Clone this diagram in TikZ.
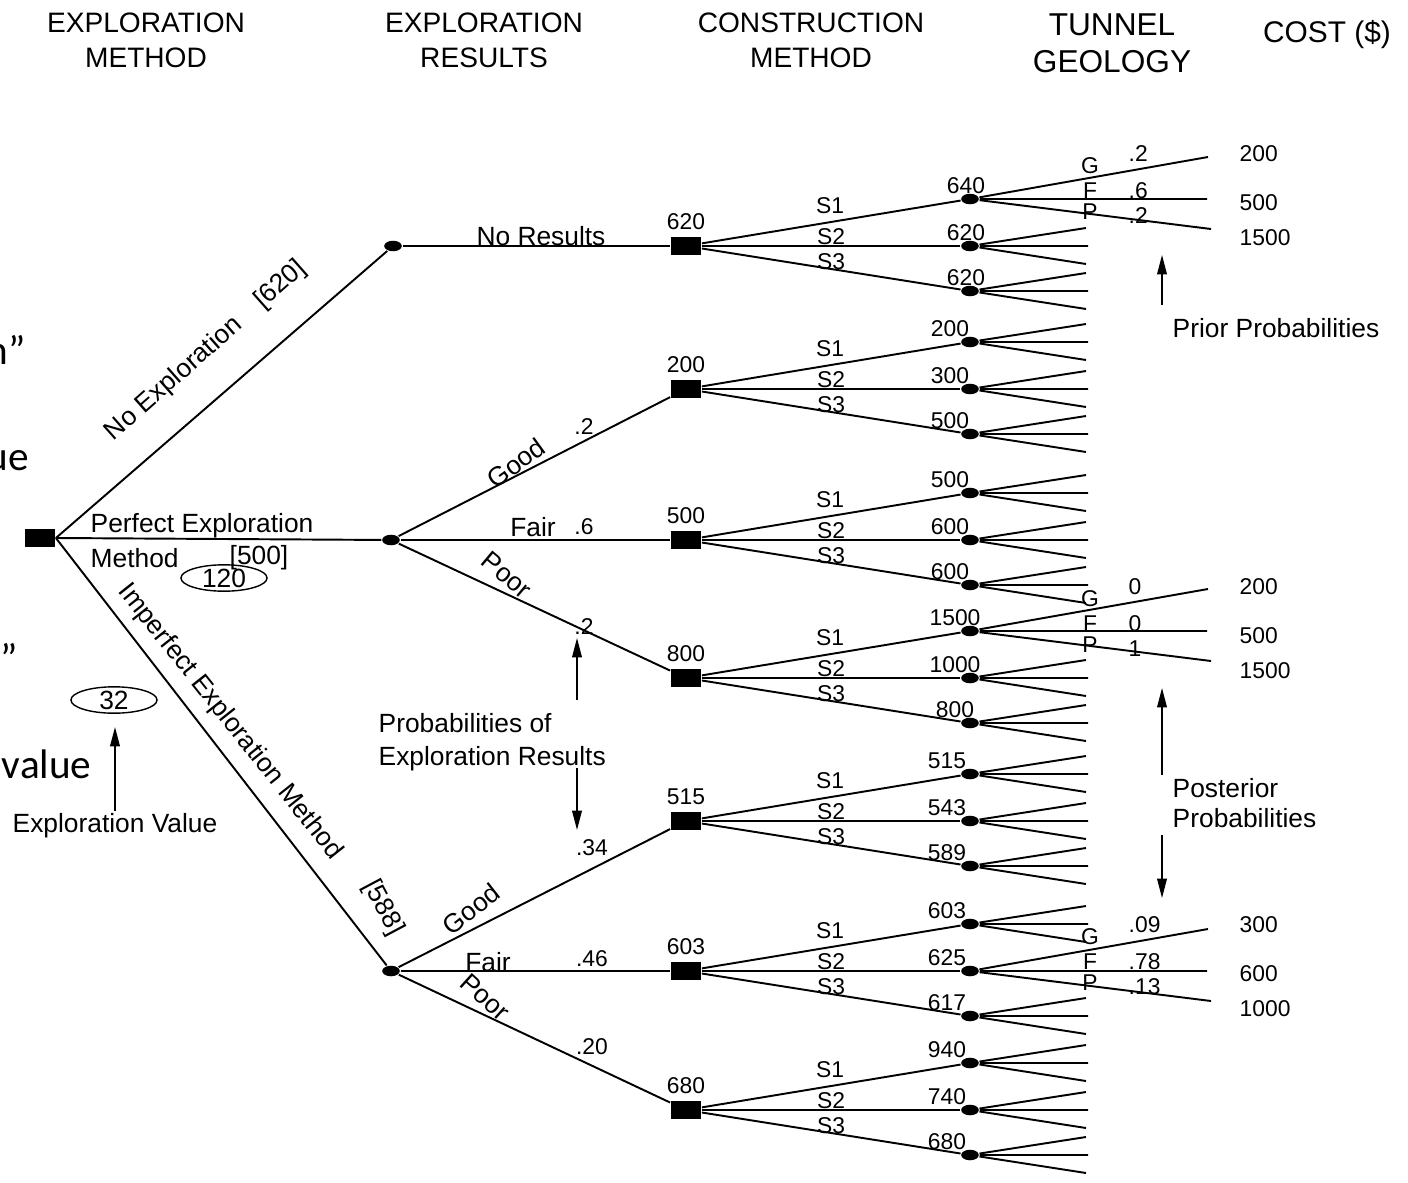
\documentclass[tikz,border=0pt]{standalone}
\usepackage{fontspec}
\setmainfont{Liberation Sans}
\newfontfamily\slidefont{Carlito}
\usetikzlibrary{shapes.geometric,arrows.meta}

\tikzset{
  dec/.style={fill, rectangle, minimum width=17pt, minimum height=10pt, inner sep=0pt},
  chc/.style={fill, ellipse, minimum width=10pt, minimum height=6pt, inner sep=0pt},
  lbl/.style={font=\fontsize{15}{17}\selectfont, inner sep=1pt},
  num/.style={font=\fontsize{13}{15}\selectfont, inner sep=1pt},
  head/.style={font=\fontsize{16}{20}\selectfont, align=center},
  oval/.style={draw, ellipse, line width=0.8pt, minimum width=49pt, minimum height=13pt, inner sep=0pt, font=\fontsize{15}{17}\selectfont},
  arr/.style={-{Triangle[length=11pt,width=5.5pt]}, line width=0.9pt},
  frag/.style={font=\slidefont\fontsize{23.5}{26}\selectfont, anchor=base west, inner sep=0pt}
}

\begin{document}
\begin{tikzpicture}[x=0.02cm, y=-0.02cm, line width=1.1pt]
\useasboundingbox (0,0) rectangle (1408,1182);

% column heads
\node[head] (h1) at (146,40) {EXPLORATION\\METHOD};
\node[head] (h2) at (484,40) {EXPLORATION\\RESULTS};
\node[head] (h3) at (811,40) {CONSTRUCTION\\METHOD};
\node[head, font=\fontsize{18}{21}\selectfont] (h4) at (1112,43) {TUNNEL\\GEOLOGY};
\node[head, font=\fontsize{17}{20}\selectfont] (h5) at (1327,35) {COST (\$)};

% text of the slide behind, cut at the left edge
\node[frag] (fr1) at (-14,364) {n”};
\node[frag] (fr2) at (-14,470) {ue};
\node[frag] (fr3) at (0,672) {”};
\node[frag] (fr4) at (1,778) {value};

% exploration method
\node[dec] (r) at (40,538) {};
\node[chc] (c1) at (393,246) {};
\node[chc] (c2) at (391,540) {};
\node[chc] (c3) at (391,971) {};
\draw (r.east) -- (c1);
\draw (r.east) -- (c2);
\draw (r.east) -- (c3);
\node[lbl, rotate=41.5] (l1) at (206,351) {No Exploration\quad[620]};
\node[lbl, anchor=west] (l2) at (88,526) {Perfect Exploration};
\node[lbl, anchor=west] (l2b) at (88,558) {Method};
\node[lbl] (l2c) at (259,558) {[500]};
\node[oval] (o120) at (224,578) {120};
\node[lbl, rotate=-51.5] (l3) at (230,722) {Imperfect Exploration Method};
\node[lbl, rotate=-62] (l3b) at (383,908) {[588]};

\node[oval] (o32) at (114,700) {32};
\node[lbl] (ev) at (115,826) {Exploration Value};
\coordinate (evtip) at (115,727);
\draw[arr] (ev) -- (evtip);

% exploration results
\node[lbl] (nr) at (541,236) {No Results};
\node[lbl, rotate=36] (g1) at (516,463) {Good};
\node[num] (pg1) at (584,427) {.2};
\node[lbl] (f1) at (533,527) {Fair};
\node[num] (pf1) at (584,527) {.6};
\node[lbl, rotate=-40] (p1) at (507,575) {Poor};
\node[num] (pp1) at (584,627) {.2};
\node[lbl, rotate=38] (g2) at (471,909) {Good};
\node[num] (pg2) at (592,848) {.34};
\node[lbl] (f2) at (488,962) {Fair};
\node[num] (pf2) at (592,959) {.46};
\node[lbl, rotate=-42] (p2) at (485,997) {Poor};
\node[num] (pp2) at (592,1047) {.20};

\node[lbl, anchor=west, align=left, font=\fontsize{15}{18.7}\selectfont] (pe) at (376,742) {Probabilities of\\Exploration Results};
\coordinate (pe1) at (577,700);
\coordinate (pe2) at (577,638);
\coordinate (pe3) at (577,768);
\coordinate (pe4) at (577,830);
\draw[arr] (pe1) -- (pe2);
\draw[arr] (pe3) -- (pe4);

% construction method and tunnel geology
\foreach \py/\pv/\qx/\sp/\qa/\qb/\qc [count=\k] in {
    246/620/966/1/640/620/620,
    389/200/950/0/200/300/500,
    540/500/950/0/500/600/600,
    678/800/955/1/1500/1000/800,
    821/515/947/0/515/543/589,
    971/603/947/2/603/625/617,
    1110/680/947/0/940/740/680} {
  \node[dec] (d\k) at (686,\py) {};
  \node[num, anchor=south] (d\k v) at ([yshift=2pt]d\k.north) {\pv};
  \node[num] (d\k s1) at (830,\py-40) {S1};
  \node[num] (d\k s2) at (831,\py-9) {S2};
  \node[num] (d\k s3) at (831,\py+16) {S3};
  \foreach \s/\dy/\j in {a/-47/1, b/0/2, c/45/3} {
    \node[chc] (d\k\s) at (970,\py+\dy) {};
    \draw (d\k) -- (d\k\s);
    \ifnum\j=\sp\relax
      \coordinate (d\k\s G) at (1208,\py+\dy-42);
      \coordinate (d\k\s F) at (1207,\py+\dy);
      \coordinate (d\k\s P) at (1211,\py+\dy+30);
      \draw (d\k\s) -- (d\k\s G) (d\k\s) -- (d\k\s F) (d\k\s) -- (d\k\s P);
    \else
      \coordinate (d\k\s u) at (1086,\py+\dy-18);
      \coordinate (d\k\s m) at (1088,\py+\dy);
      \coordinate (d\k\s l) at (1086,\py+\dy+18);
      \draw (d\k\s) -- (d\k\s u) (d\k\s) -- (d\k\s m) (d\k\s) -- (d\k\s l);
    \fi
  }
  \node[num] (d\k av) at (\qx,\py-60) {\qa};
  \node[num] (d\k bv) at (\qx,\py-13) {\qb};
  \node[num] (d\k cv) at (\qx,\py+32) {\qc};
}
\draw (c1) -- (d1);
\draw (c2) -- (d2);
\draw (c2) -- (d3);
\draw (c2) -- (d4);
\draw (c3) -- (d5);
\draw (c3) -- (d6);
\draw (c3) -- (d7);

% geology probabilities and costs
\foreach \gy/\pg/\pf/\pq/\cg/\cf/\cq [count=\m] in {
    199/.2/.6/.2/200/500/1500,
    632/0/0/1/200/500/1500,
    970/.09/.78/.13/300/600/1000} {
  \node[num] (t\m G) at (1090,\gy-33) {G};
  \node[num] (t\m F) at (1090,\gy-8) {F};
  \node[num] (t\m P) at (1090,\gy+13) {P};
  \node[num, anchor=west] (t\m pg) at (1126,\gy-45) {\pg};
  \node[num, anchor=west] (t\m pf) at (1126,\gy-8) {\pf};
  \node[num, anchor=west] (t\m pp) at (1126,\gy+17) {\pq};
  \node[num, anchor=west] (t\m cg) at (1237,\gy-45) {\cg};
  \node[num, anchor=west] (t\m cf) at (1237,\gy+4) {\cf};
  \node[num, anchor=west] (t\m cp) at (1237,\gy+39) {\cq};
}

\node[lbl, anchor=west] (pri) at (1170,328) {Prior Probabilities};
\coordinate (pri0) at (1162,305);
\coordinate (pri1) at (1162,255);
\draw[arr] (pri0) -- (pri1);

\node[lbl, anchor=west, align=left, font=\fontsize{15}{17}\selectfont] (post) at (1170,803) {Posterior\\Probabilities};
\coordinate (po0) at (1162,775);
\coordinate (po1) at (1162,688);
\coordinate (po2) at (1162,835);
\coordinate (po3) at (1162,898);
\draw[arr] (po0) -- (po1);
\draw[arr] (po2) -- (po3);
\end{tikzpicture}
\end{document}
